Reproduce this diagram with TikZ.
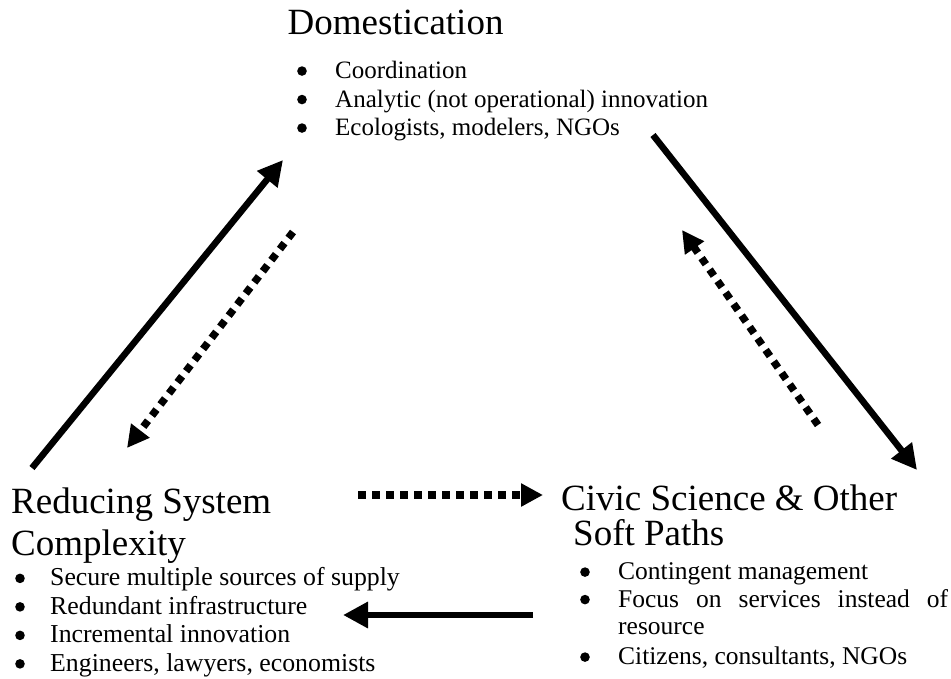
\documentclass[tikz,border=0pt]{standalone}
\usepackage{fontspec}
\setmainfont{Liberation Serif}
\usetikzlibrary{arrows.meta, positioning}
\newcommand{\bdot}{\tikz[x=1pt, y=1pt, baseline=0pt]\fill (4.8,7.5) circle (4.8);}
\newcommand{\bitem}[2][36pt]{\makebox[#1][l]{\bdot}#2}
\tikzset{
  title/.style={anchor=north west, inner sep=0pt, align=left,
    font=\fontsize{37}{42}\selectfont},
  blist/.style={anchor=north west, inner sep=0pt, align=left},
  arrow/.style={line width=6.5pt, -{Triangle[length=25pt, width=25pt]}},
  dotarrow/.style={line width=7.5pt, dash pattern=on 7.5pt off 6.5pt,
    -{Triangle[length=22pt, width=22pt]}}
}
\begin{document}
\begin{tikzpicture}[x=1pt, y=-1pt]
  \useasboundingbox (0,0) rectangle (951,678);

  % three strategies
  \node[title] (dom) at (287.5,9.5) {Domestication};
  \node[blist, font=\fontsize{25}{28.5}\selectfont] (domlist) at (297,61)
    {\bitem[38pt]{Coordination}\\
     \bitem[38pt]{Analytic (not operational) innovation}\\
     \bitem[38pt]{Ecologists, modelers, NGOs}};

  \node[title] (red) at (11,488) {Reducing System\\Complexity};
  \node[blist, font=\fontsize{25.8}{28.5}\selectfont] (redlist) at (15,567.5)
    {\bitem[35pt]{Secure multiple sources of supply}\\
     \bitem[35pt]{Redundant infrastructure}\\
     \bitem[35pt]{Incremental innovation}\\
     \bitem[35pt]{Engineers, lawyers, economists}};

  \node[title, font=\fontsize{37}{35}\selectfont] (civ) at (561,485)
    {Civic Science \& Other\\\hspace*{12pt}Soft Paths};
  \node[blist, font=\fontsize{25.5}{27.5}\selectfont] (civlist) at (580,562.5)
    {\bitem[38pt]{Contingent management}\\
     \bitem[38pt]{\makebox[330pt][s]{Focus on services instead of}}\\
     \hspace*{38pt}resource\\[2.5pt]
     \bitem[38pt]{Citizens, consultants, NGOs}};

  % arrow ends
  \coordinate (redup) at (32,468);
  \coordinate (domdown) at (283,160);
  \coordinate (domback) at (293,232);
  \coordinate (redback) at (127,448);
  \coordinate (domout) at (653,135);
  \coordinate (civin) at (917,470);
  \coordinate (civback) at (818,425);
  \coordinate (domin) at (682,230);
  \coordinate (redout) at (358,495);
  \coordinate (civleft) at (543,495);
  \coordinate (civout) at (533,615);
  \coordinate (redin) at (343,615);

  \draw[arrow] (redup) -- (domdown);
  \draw[dotarrow] (domback) -- (redback);
  \draw[arrow] (domout) -- (civin);
  \draw[dotarrow] (civback) -- (domin);
  \draw[dotarrow] (redout) -- (civleft);
  \draw[arrow] (civout) -- (redin);
\end{tikzpicture}
\end{document}
